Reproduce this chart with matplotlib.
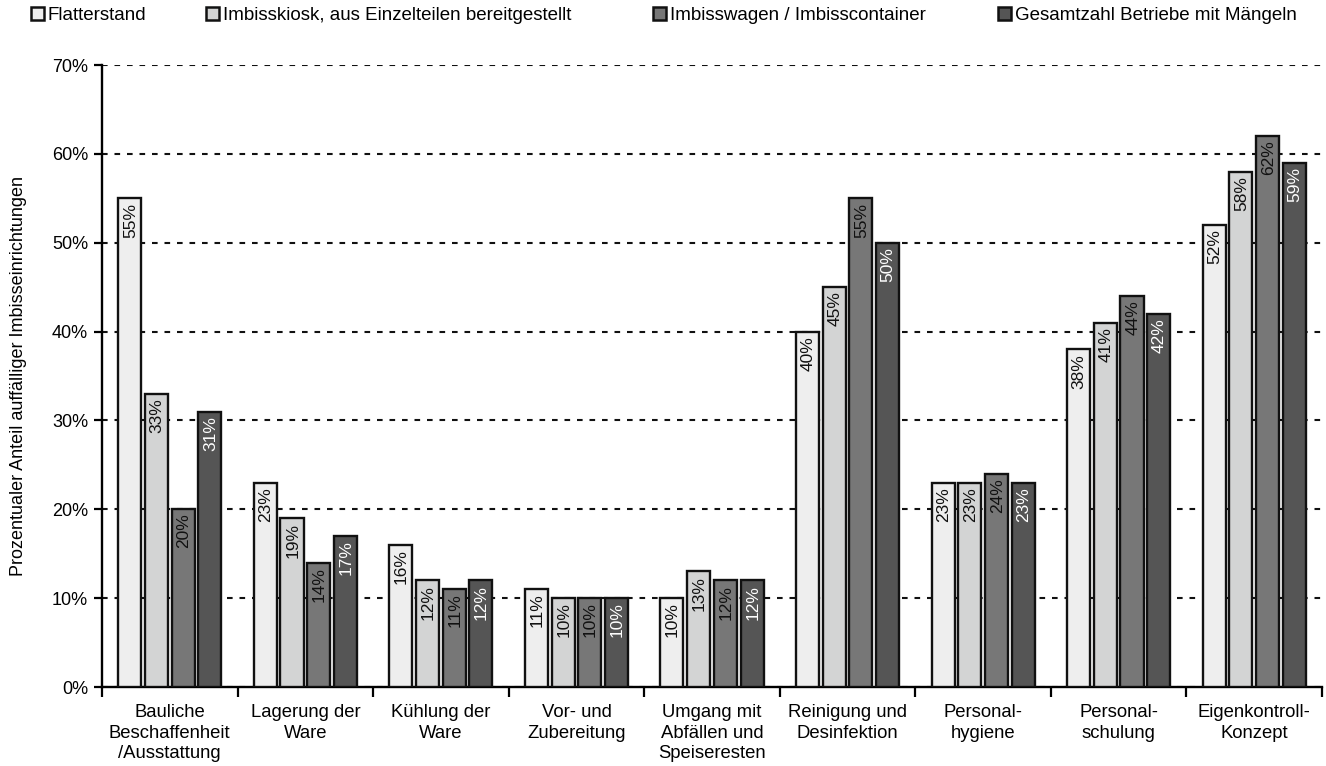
import matplotlib
matplotlib.use("Agg")
import matplotlib.pyplot as plt
import numpy as np

plt.rcParams['font.family'] = ['Liberation Sans', 'DejaVu Sans']

categories = ["Bauliche\nBeschaffenheit\n/Ausstattung", "Lagerung der\nWare", "Kühlung der\nWare",
              "Vor- und\nZubereitung", "Umgang mit\nAbfällen und\nSpeiseresten", "Reinigung und\nDesinfektion",
              "Personal-\nhygiene", "Personal-\nschulung", "Eigenkontroll-\nKonzept"]
series_names = ["Flatterstand", "Imbisskiosk, aus Einzelteilen bereitgestellt",
                "Imbisswagen / Imbisscontainer", "Gesamtzahl Betriebe mit Mängeln"]
flatterstand = [55, 23, 16, 11, 10, 40, 23, 38, 52]
imbisskiosk = [33, 19, 12, 10, 13, 45, 23, 41, 58]
imbisswagen = [20, 14, 11, 10, 12, 55, 24, 44, 62]
gesamt = [31, 17, 12, 10, 12, 50, 23, 42, 59]
yticks = [0, 10, 20, 30, 40, 50, 60, 70]

data = [flatterstand, imbisskiosk, imbisswagen, gesamt]
colors = ["#EEEEEE", "#D3D4D4", "#777777", "#555555"]
textcolors = ["#111111", "#111111", "#111111", "#FFFFFF"]
legend_x_px = [27, 202, 649, 994]

fig = plt.figure(figsize=(13.26, 7.66), dpi=100)
ax = fig.add_axes([102/1326, 1 - 687/766, (1322-102)/1326, (687-65)/766])

x = np.arange(len(categories))
width = 0.17
step = 0.197
bars = []
for i, (vals, c, tc) in enumerate(zip(data, colors, textcolors)):
    pos = x + (i - 1.5) * step
    b = ax.bar(pos, vals, width, color=c, edgecolor="#111111", linewidth=1.7, label=series_names[i], zorder=3)
    bars.append(b)
    for p, v in zip(pos, vals):
        ax.text(p + 0.005, v - 0.5, f"{v}%", rotation=90, ha="center", va="top", fontsize=12.5, color=tc, zorder=4)

ax.set_xlim(-0.5, len(categories) - 0.5)
ax.set_ylim(0, 70)
ax.set_yticks(yticks)
ax.set_yticklabels([f"{t}%" for t in yticks], fontsize=13)
ax.yaxis.grid(True, linestyle=(0, (2.7, 3.3)), color="#111111", linewidth=1.5, zorder=0)
ax.set_xticks(np.arange(len(categories) + 1) - 0.5)
ax.set_xticklabels([])
ax.set_xticks(x, minor=True)
ax.set_xticklabels(categories, minor=True, fontsize=13.3, linespacing=1.3)
ax.tick_params(axis="x", which="minor", length=0, pad=12)
ax.tick_params(axis="x", which="major", length=7, width=1.6, direction="out")
ax.tick_params(axis="y", length=6, width=1.6, direction="out", pad=4)
for s in ["top", "right"]:
    ax.spines[s].set_visible(False)
for s in ["left", "bottom"]:
    ax.spines[s].set_linewidth(1.7)
ax.set_ylabel("Prozentualer Anteil auffälliger Imbisseinrichtungen", fontsize=13, labelpad=18)

for i, b in enumerate(bars):
    leg = fig.legend([b], [series_names[i]], loc="upper left",
                     bbox_to_anchor=(legend_x_px[i] / 1326, 1.0 - 3 / 766), frameon=False, fontsize=13.5,
                     handlelength=0.7, handleheight=0.7, handletextpad=0.2,
                     borderpad=0.2, borderaxespad=0.0)
    for h in leg.legend_handles:
        h.set_linewidth(1.8)

fig.savefig("out.png", dpi=100)
